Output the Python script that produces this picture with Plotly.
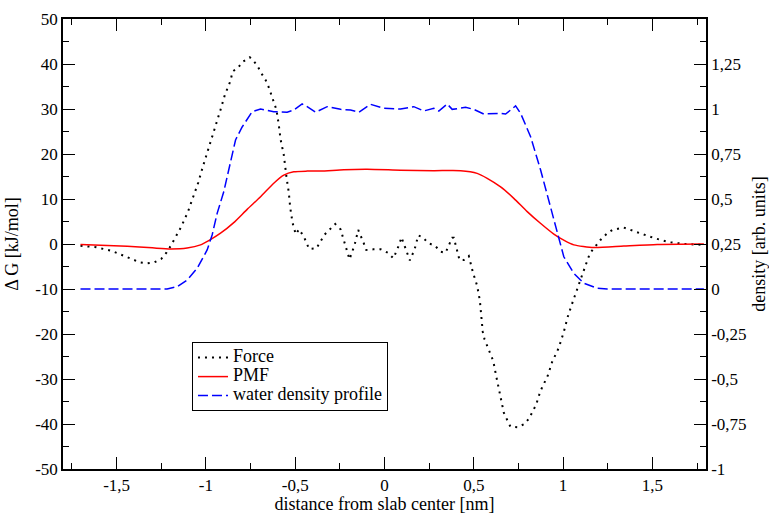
import plotly.graph_objects as go

# ---------------- data ----------------
force_x = [-1.702, -1.614, -1.530, -1.450, -1.370, -1.329, -1.288, -1.249, -1.221, -1.197,
           -1.174, -1.138, -1.101, -1.071, -1.043, -1.017, -0.991, -0.967, -0.942, -0.918,
           -0.894, -0.862, -0.851, -0.817, -0.793, -0.754, -0.733, -0.713, -0.689, -0.665,
           -0.648, -0.633, -0.618, -0.605, -0.592, -0.582, -0.564, -0.560, -0.549, -0.536,
           -0.528, -0.515, -0.497, -0.478, -0.450, -0.422, -0.381, -0.336, -0.276, -0.246,
           -0.220, -0.196, -0.168, -0.147, -0.118, -0.102, -0.063, -0.021, 0.018, 0.050,
           0.082, 0.095, 0.127, 0.142, 0.168, 0.189, 0.214, 0.245, 0.284, 0.314,
           0.342, 0.379, 0.388, 0.401, 0.420, 0.444, 0.472, 0.494, 0.519, 0.534,
           0.541, 0.550, 0.560, 0.577, 0.590, 0.609, 0.625, 0.644, 0.668, 0.687,
           0.705, 0.743, 0.784, 0.810, 0.849, 0.873, 0.914, 0.939, 0.976, 1.004,
           1.026, 1.051, 1.077, 1.110, 1.150, 1.181, 1.209, 1.247, 1.275, 1.338,
           1.428, 1.513, 1.597, 1.685, 1.769]
force_y = [-0.38, -0.73, -1.49, -2.73, -4.07, -4.29, -4.07, -3.27, -1.93, -0.44,
           1.11, 3.84, 7.11, 10.44, 13.62, 17.18, 20.38, 23.62, 26.82, 29.84,
           33.11, 36.29, 38.29, 39.33, 40.51, 41.49, 40.67, 39.71, 37.93, 36.38,
           34.82, 33.18, 31.49, 29.84, 26.51, 23.27, 19.84, 18.16, 14.96, 11.49,
           8.16, 4.73, 2.16, 3.27, 1.49, -1.11, -0.96, 2.07, 4.44, 3.27,
           0.0, -3.40, -0.29, 3.11, 0.38, -1.33, -1.18, -1.18, -1.93, -3.18,
           -0.16, 1.49, -2.00, -3.62, -1.27, 1.93, 1.49, 0.22, -0.44, -1.71,
           -1.93, 1.40, 1.40, -0.38, -3.56, -3.56, -2.67, -6.16, -9.33, -12.6,
           -16.0, -19.49, -21.18, -22.82, -24.44, -26.0, -29.27, -32.6, -37.49, -39.11,
           -40.6, -40.73, -40.0, -38.73, -35.71, -32.67, -29.27, -26.16, -23.04, -19.49,
           -16.16, -13.18, -10.07, -6.51, -2.07, -0.6, 0.89, 2.38, 3.11, 3.67,
           2.38, 1.27, 0.38, 0.0, -0.16]

pmf_x = [-1.702, -1.44, -1.30, -1.198, -1.105, -1.03, -0.984, -0.918, -0.844, -0.769,
         -0.694, -0.62, -0.564, -0.508, -0.433, -0.358, -0.228, -0.097, 0.09, 0.276,
         0.426, 0.519, 0.575, 0.65, 0.724, 0.799, 0.873, 0.948, 1.006, 1.06,
         1.172, 1.34, 1.527, 1.788]
pmf_y = [-0.1, -0.5, -0.85, -1.1, -0.9, -0.2, 0.75, 2.4, 4.75, 7.7,
         10.5, 13.5, 15.3, 16.05, 16.2, 16.2, 16.5, 16.6, 16.4, 16.3,
         16.3, 15.7, 14.6, 12.7, 10.15, 7.2, 4.6, 2.2, 0.8, -0.2,
         -0.8, -0.45, -0.1, 0.0]

dens_x = [-1.702, -1.217, -1.161, -1.105, -1.049, -0.993, -0.965, -0.937, -0.900, -0.862,
          -0.834, -0.797, -0.741, -0.694, -0.620, -0.545, -0.508, -0.461, -0.433, -0.386,
          -0.321, -0.246, -0.190, -0.144, -0.078, -0.004, 0.090, 0.164, 0.220, 0.276,
          0.304, 0.351, 0.379, 0.454, 0.500, 0.556, 0.650, 0.678, 0.734, 0.762,
          0.818, 0.874, 0.930, 0.967, 1.004, 1.060, 1.116, 1.191, 1.247, 1.788]
dens_y = [0.0, 0.0, 0.013, 0.05, 0.115, 0.217, 0.30, 0.42, 0.54, 0.717,
          0.828, 0.90, 0.985, 1.0, 0.985, 0.982, 0.994, 1.028, 1.013, 0.982,
          1.013, 0.998, 0.994, 0.982, 1.026, 1.004, 1.0, 1.013, 0.989, 1.004,
          0.989, 1.028, 0.998, 1.009, 0.998, 0.972, 0.976, 0.972, 1.017, 0.976,
          0.846, 0.661, 0.457, 0.328, 0.179, 0.087, 0.032, 0.004, 0.0, 0.0]

series_names = ["Force", "PMF", "water density profile"]

x_tickvals = [-1.5, -1.0, -0.5, 0.0, 0.5, 1.0, 1.5]
x_ticktext = ["-1,5", "-1", "-0,5", "0", "0,5", "1", "1,5"]
y_tickvals = [-50, -40, -30, -20, -10, 0, 10, 20, 30, 40, 50]
y_ticktext = ["-50", "-40", "-30", "-20", "-10", "0", "10", "20", "30", "40", "50"]
y2_tickvals = [-1, -0.75, -0.5, -0.25, 0, 0.25, 0.5, 0.75, 1, 1.25]
y2_ticktext = ["-1", "-0,75", "-0,5", "-0,25", "0", "0,25", "0,5", "0,75", "1", "1,25"]

FONT = "Liberation Serif"


def legend_label(s):
    # larger visible text while keeping the compact legend row spacing
    return '<span style="font-size:18px">' + s + '</span>'


fig = go.Figure()
fig.add_trace(go.Scatter(x=force_x, y=force_y, mode="lines", name=legend_label(series_names[0]),
                         line=dict(color="black", width=2, dash="2px,5px")))
fig.add_trace(go.Scatter(x=pmf_x, y=pmf_y, mode="lines", name=legend_label(series_names[1]),
                         line=dict(color="#ff0000", width=1.5, shape="spline", smoothing=0.6)))
fig.add_trace(go.Scatter(x=dens_x, y=dens_y, mode="lines", name=legend_label(series_names[2]),
                         yaxis="y2",
                         line=dict(color="#0000ff", width=1.5, dash="10px,4px")))

axis_common = dict(showgrid=False, zeroline=False, showline=True, linecolor="black",
                   linewidth=1.5, ticks="inside", ticklen=12, tickwidth=1,
                   tickcolor="black", tickfont=dict(family=FONT, size=17, color="black"))

fig.update_layout(
    width=769, height=514,
    margin=dict(l=63, r=63, t=19, b=45),
    paper_bgcolor="white", plot_bgcolor="white",
    font=dict(family=FONT, size=17, color="black"),
    showlegend=True,
    legend=dict(x=0.2006, y=0.282, xanchor="left", yanchor="top",
                bordercolor="black", borderwidth=1, bgcolor="white",
                font=dict(family=FONT, size=12, color="black"),
                tracegroupgap=0),
    xaxis=dict(range=[-1.8, 1.8], tickmode="array", tickvals=x_tickvals,
               ticktext=x_ticktext, mirror="ticks",
               minor=dict(ticks="inside", ticklen=6, tickcolor="black",
                          tick0=0, dtick=0.25),
               title=dict(text="distance from slab center [nm]",
                          font=dict(family=FONT, size=18), standoff=4),
               automargin=False, **axis_common),
    yaxis=dict(range=[-50, 50], tickmode="array", tickvals=y_tickvals,
               ticktext=y_ticktext,
               minor=dict(ticks="inside", ticklen=6, tickcolor="black",
                          tick0=0, dtick=5),
               title=dict(text="Δ G [kJ/mol]", font=dict(family=FONT, size=18),
                          standoff=12),
               automargin=False, **axis_common),
    yaxis2=dict(range=[-1, 1.5], overlaying="y", side="right", tickmode="array",
                tickvals=y2_tickvals, ticktext=y2_ticktext,
                minor=dict(ticks="inside", ticklen=6, tickcolor="black",
                           tick0=0, dtick=0.125),
                title=dict(text="density [arb. units]", font=dict(family=FONT, size=18),
                           standoff=8),
                automargin=False, **axis_common),
)

fig.write_html("out.html")
